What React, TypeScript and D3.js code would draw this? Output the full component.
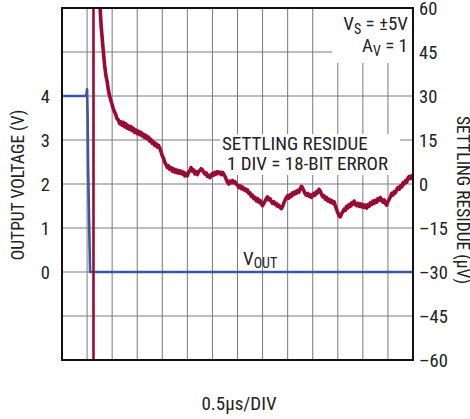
import React from "react";
import * as d3 from "d3";

const W = 470;
const H = 419;

// x in divisions (0.5µs/DIV), 14 grid divisions
const xDivs = d3.range(0, 15);
const leftTicks = [0, 1, 2, 3, 4];
const rightTicks = [60, 45, 30, 15, 0, -15, -30, -45, -60];
const rightTickLabels = ["60", "45", "30", "15", "0", "–15", "–30", "–45", "–60"];

// Output voltage trace (V)
const voutSeries: [number, number][] = [
  [0, 4], [0.94, 4], [0.98, 4.05], [1.0, 4.15], [1.02, 3.6], [1.04, 2.4], [1.08, 1.2], [1.12, 0], [14, 0],
];

// Settling residue saturation (vertical trace)
const residueSpike: [number, number][] = [[1.256, -64], [1.256, 64]];

// Settling residue trace (µV)
const residueSeries: [number, number][] = [
  [1.48, 66], [1.52, 60], [1.56, 54], [1.60, 50], [1.65, 45], [1.70, 40.5], [1.75, 37], [1.80, 35], [1.85, 32],
  [1.90, 30], [1.95, 28.5], [2.00, 27], [2.05, 25.5], [2.10, 24.5], [2.15, 23.5], [2.20, 22.2], [2.25, 21.8],
  [2.30, 20.6], [2.35, 21.2], [2.40, 20.0], [2.45, 21.0], [2.50, 19.5], [2.55, 20.5], [2.60, 19.0], [2.65, 19.8],
  [2.70, 18.6], [2.75, 19.6], [2.80, 18.2], [2.85, 19.0], [2.90, 17.6], [2.95, 18.4], [3.00, 17.2], [3.05, 18.0],
  [3.10, 16.8], [3.15, 17.6], [3.20, 16.4], [3.25, 17.0], [3.30, 15.8], [3.35, 16.6], [3.40, 15.4], [3.45, 16.0],
  [3.50, 14.6], [3.55, 15.2], [3.60, 13.8], [3.65, 14.4], [3.70, 13.2], [3.75, 13.8], [3.80, 12.6], [3.85, 13.2],
  [3.90, 12.2], [3.95, 11.0], [4.00, 9.6], [4.05, 8.8], [4.10, 7.4], [4.15, 6.6], [4.20, 5.6], [4.25, 6.2],
  [4.30, 5.0], [4.35, 5.6], [4.40, 4.4], [4.45, 5.2], [4.50, 4.0], [4.55, 4.8], [4.60, 3.8], [4.65, 4.6],
  [4.70, 3.6], [4.75, 4.4], [4.80, 3.4], [4.85, 4.0], [4.90, 2.8], [4.95, 3.6], [5.00, 2.8], [5.05, 4.0],
  [5.10, 4.6], [5.15, 5.6], [5.20, 4.4], [5.25, 4.8], [5.30, 3.4], [5.35, 4.2], [5.40, 3.2], [5.45, 4.2],
  [5.50, 4.6], [5.55, 5.2], [5.60, 4.8], [5.65, 4.0], [5.70, 3.4], [5.75, 3.8], [5.80, 2.6], [5.85, 3.0],
  [5.90, 2.2], [5.95, 3.0], [6.00, 3.6], [6.05, 3.0], [6.10, 4.0], [6.15, 3.4], [6.20, 4.2], [6.25, 3.6],
  [6.30, 4.0], [6.35, 3.2], [6.40, 4.0], [6.45, 3.4], [6.50, 2.6], [6.55, 1.6], [6.60, 0.6], [6.65, 0.0],
  [6.70, 1.0], [6.75, 0.4], [6.80, 1.2], [6.85, 0.4], [6.90, 0.8], [6.95, 0.0], [7.00, -0.4], [7.05, -1.2],
  [7.10, -0.6], [7.15, -1.6], [7.20, -1.0], [7.25, -2.0], [7.30, -1.6], [7.35, -2.4], [7.40, -2.0], [7.45, -3.2],
  [7.50, -3.0], [7.55, -4.2], [7.60, -3.8], [7.65, -5.0], [7.70, -4.6], [7.75, -5.8], [7.80, -5.0], [7.85, -6.2],
  [7.90, -5.6], [7.95, -6.8], [8.00, -7.4], [8.05, -6.6], [8.10, -5.8], [8.15, -5.0], [8.20, -4.4], [8.25, -5.4],
  [8.30, -5.0], [8.35, -6.0], [8.40, -6.6], [8.45, -6.0], [8.50, -7.0], [8.55, -6.6], [8.60, -7.6], [8.65, -7.2],
  [8.70, -8.0], [8.75, -8.4], [8.80, -7.6], [8.85, -6.4], [8.90, -5.4], [8.95, -4.6], [9.00, -4.0], [9.05, -4.8],
  [9.10, -3.6], [9.15, -4.2], [9.20, -3.0], [9.25, -3.6], [9.30, -2.6], [9.35, -3.2], [9.40, -2.2], [9.45, -2.8],
  [9.50, -1.6], [9.55, -0.8], [9.60, -1.4], [9.65, -2.4], [9.70, -3.4], [9.75, -3.8], [9.80, -3.2], [9.85, -4.2],
  [9.90, -3.6], [9.95, -4.6], [10.00, -4.0], [10.05, -3.2], [10.10, -3.8], [10.15, -2.6], [10.20, -3.0], [10.25, -1.8],
  [10.30, -2.4], [10.35, -3.4], [10.40, -4.4], [10.45, -4.0], [10.50, -5.2], [10.55, -4.6], [10.60, -5.8], [10.65, -5.2],
  [10.70, -6.2], [10.75, -5.6], [10.80, -6.6], [10.85, -6.0], [10.90, -7.4], [10.95, -8.6], [11.00, -9.8], [11.05, -10.8],
  [11.10, -11.2], [11.15, -10.2], [11.20, -9.4], [11.25, -8.6], [11.30, -9.0], [11.35, -7.6], [11.40, -8.2], [11.45, -7.0],
  [11.50, -7.6], [11.55, -6.4], [11.60, -7.0], [11.65, -5.8], [11.70, -6.6], [11.75, -7.4], [11.80, -6.6], [11.85, -7.6],
  [11.90, -6.8], [11.95, -7.8], [12.00, -7.0], [12.05, -8.0], [12.10, -7.2], [12.15, -8.2], [12.20, -7.0], [12.25, -7.6],
  [12.30, -6.4], [12.35, -7.0], [12.40, -5.8], [12.45, -6.6], [12.50, -5.6], [12.55, -6.2], [12.60, -5.0], [12.65, -5.6],
  [12.70, -4.6], [12.75, -5.4], [12.80, -6.2], [12.85, -5.4], [12.90, -6.6], [12.95, -7.2], [13.00, -6.0], [13.05, -5.2],
  [13.10, -4.4], [13.15, -3.2], [13.20, -3.8], [13.25, -2.6], [13.30, -3.0], [13.35, -1.8], [13.40, -1.2], [13.45, -1.8],
  [13.50, -0.6], [13.55, -1.0], [13.60, 0.4], [13.65, 0.0], [13.70, 1.2], [13.75, 0.6], [13.80, 2.0], [13.85, 2.6],
  [13.90, 1.8], [13.95, 2.8], [14.00, 1.6],
];

const FONT = "'Liberation Sans Narrow', 'Arial Narrow', 'Roboto Condensed', sans-serif";
const TEXT = "#222";
const RED = "#9b0a32";
const BLUE = "#3a56a4";
const GRID = "#7a7a7a";

export default function App() {
  const left = 62, right = 413, top = 8, bottom = 360;
  const x = d3.scaleLinear().domain([0, 14]).range([left, right]);
  const yR = d3.scaleLinear().domain([-60, 60]).range([bottom, top]);
  const yL = d3.scaleLinear().domain([-2, 6]).range([bottom, top]);

  const lineR = d3.line<[number, number]>().x((d) => x(d[0])).y((d) => yR(d[1]));
  const lineL = d3.line<[number, number]>().x((d) => x(d[0])).y((d) => yL(d[1]));

  return (
    <svg width={W} height={H} style={{ position: "absolute", left: 0, top: 0, background: "#fff" }}>
      <defs>
        <clipPath id="plot">
          <rect x={left} y={top} width={right - left} height={bottom - top} />
        </clipPath>
      </defs>
      <rect x={0} y={0} width={W} height={H} fill="#fff" />
      {/* grid */}
      {xDivs.slice(1, -1).map((d) => (
        <line key={"v" + d} x1={x(d)} x2={x(d)} y1={top} y2={bottom} stroke={GRID} strokeWidth={1} />
      ))}
      {rightTicks.slice(1, -1).map((v) => (
        <line key={"h" + v} x1={left} x2={right} y1={yR(v)} y2={yR(v)} stroke={GRID} strokeWidth={1} />
      ))}
      {/* label backgrounds */}
      <rect x={332} y={top + 1} width={right - 332 - 1} height={54} fill="#fff" />
      <rect x={220} y={134} width={180} height={41} fill="#fff" />
      {/* traces */}
      <g clipPath="url(#plot)">
        <path d={lineL(voutSeries) ?? ""} fill="none" stroke={BLUE} strokeWidth={2.6} strokeLinejoin="round" />
        <path d={lineR(residueSpike) ?? ""} fill="none" stroke={RED} strokeWidth={2.6} />
        <path d={lineR(residueSeries) ?? ""} fill="none" stroke={RED} strokeWidth={3.6} strokeLinejoin="round" />
      </g>
      {/* frame */}
      <rect x={left} y={top} width={right - left} height={bottom - top} fill="none" stroke="#111" strokeWidth={2} />
      {/* left ticks */}
      {leftTicks.map((v) => (
        <text key={"l" + v} x={50} y={yL(v) + 6.5} textAnchor="end" fontFamily={FONT} fontSize={18.5} fill={TEXT}>
          {v}
        </text>
      ))}
      {/* right ticks */}
      {rightTicks.map((v, i) => (
        <text key={"r" + v} x={419} y={yR(v) + 6.5} textAnchor="start" fontFamily={FONT} fontSize={18.5} fill={TEXT}>
          {rightTickLabels[i]}
        </text>
      ))}
      {/* axis titles */}
      <text transform={`translate(24,185) rotate(-90)`} textAnchor="middle" fontFamily={FONT} fontSize={17.5} fill={TEXT}>
        OUTPUT VOLTAGE (V)
      </text>
      <text transform={`translate(457,200) rotate(90)`} textAnchor="middle" fontFamily={FONT} fontSize={17.5} fill={TEXT}>
        SETTLING RESIDUE (µV)
      </text>
      <text x={239} y={410} textAnchor="middle" fontFamily={FONT} fontSize={19} fill={TEXT}>
        0.5µs/DIV
      </text>
      {/* annotations */}
      <text x={408} y={30} textAnchor="end" fontFamily={FONT} fontSize={19} fill={TEXT}>
        V<tspan fontSize={14} dy={4}>S</tspan>
        <tspan dy={-4}> = ±5V</tspan>
      </text>
      <text x={408} y={52} textAnchor="end" fontFamily={FONT} fontSize={19} fill={TEXT}>
        A<tspan fontSize={14} dy={4}>V</tspan>
        <tspan dy={-4}> = 1</tspan>
      </text>
      <text x={222} y={150} fontFamily={FONT} fontSize={19} fill={TEXT}>
        SETTLING RESIDUE
      </text>
      <text x={227} y={170} fontFamily={FONT} fontSize={19} fill={TEXT}>
        1 DIV = 18-BIT ERROR
      </text>
      <text x={243} y={265} fontFamily={FONT} fontSize={19} fill={TEXT}>
        V<tspan fontSize={14} dy={3}>OUT</tspan>
      </text>
    </svg>
  );
}
